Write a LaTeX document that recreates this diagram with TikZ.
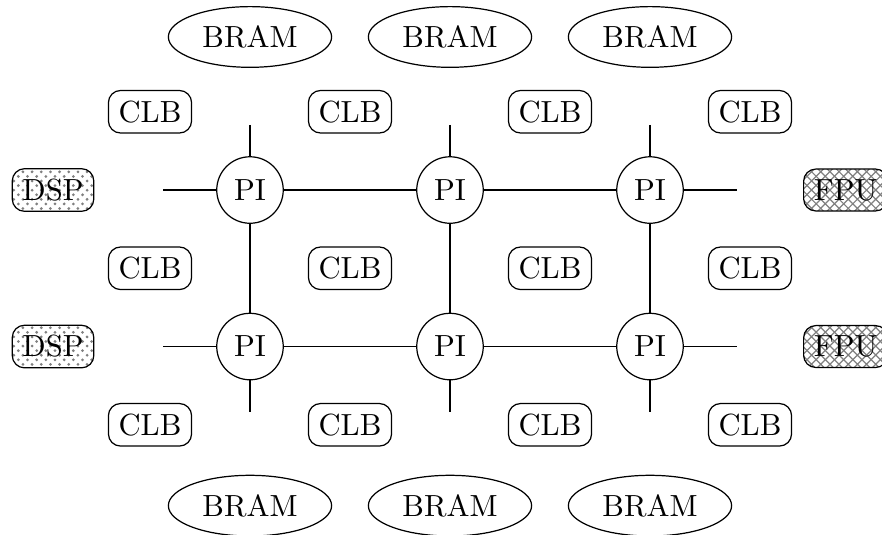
\documentclass[tikz,border=0pt]{standalone}
\usetikzlibrary{shapes.geometric,patterns}
\begin{document}
\begin{tikzpicture}[
  pi/.style={circle,draw},
  clb/.style={rectangle,rounded corners,draw},
  bram/.style={ellipse,draw},
  dsp/.style={rectangle,rounded corners,draw,pattern=crosshatch dots,pattern color=gray},
  fpu/.style={rectangle,rounded corners,draw,pattern=crosshatch,pattern color=gray}]
\useasboundingbox (-2.875,-3.956) rectangle (7.268,2.185);

\node[pi] (P11) at (0,0){PI};
\node[pi] (P12) at (2.3,0){PI};
\node[pi] (P13) at (4.6,0){PI};
\node[pi] (P21) at (0,-1.8){PI};
\node[pi] (P22) at (2.3,-1.8){PI};
\node[pi] (P23) at (4.6,-1.8){PI};

\foreach \x [count=\i] in {-1.15,1.15,3.45,5.75}{
  \node[clb] (C1\i) at (\x,0.9){CLB};
  \node[clb] (C2\i) at (\x,-0.9){CLB};
  \node[clb] (C3\i) at (\x,-2.7){CLB};
}

\node[dsp] (D1) at (-2.265,0){DSP};
\node[dsp] (D2) at (-2.265,-1.8){DSP};
\node[fpu] (F1) at (6.85,0){FPU};
\node[fpu] (F2) at (6.85,-1.8){FPU};

\foreach \x [count=\i] in {0,2.3,4.6}{
  \node[bram] (BT\i) at (\x,1.76){BRAM};
  \node[bram] (BB\i) at (\x,-3.63){BRAM};
}

% stub ends
\coordinate (W1) at (-1,0);
\coordinate (E1) at (5.6,0);
\coordinate (W2) at (-1,-1.8);
\coordinate (E2) at (5.6,-1.8);
\coordinate (N1) at (0,0.75);
\coordinate (N2) at (2.3,0.75);
\coordinate (N3) at (4.6,0.75);
\coordinate (S1) at (0,-2.55);
\coordinate (S2) at (2.3,-2.55);
\coordinate (S3) at (4.6,-2.55);

\draw (W1)--(P11)--(P12)--(P13)--(E1);
\draw (W2)--(P21)--(P22)--(P23)--(E2);
\draw (N1)--(P11)--(P21)--(S1);
\draw (N2)--(P12)--(P22)--(S2);
\draw (N3)--(P13)--(P23)--(S3);

\end{tikzpicture}
\end{document}
